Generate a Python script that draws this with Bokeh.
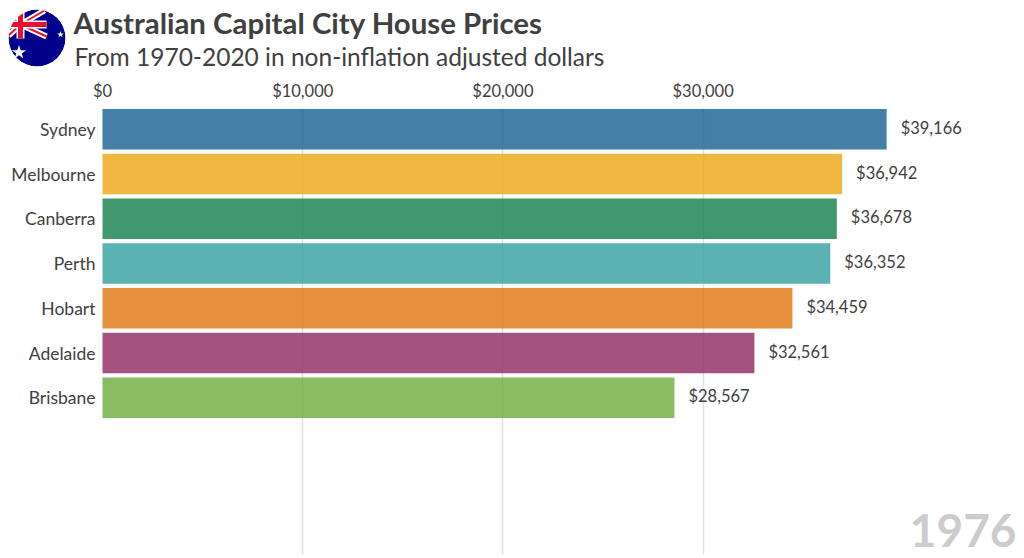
from bokeh.plotting import figure
from bokeh.layouts import column
from bokeh.models import ColumnDataSource, FixedTicker, Range1d, Label
from bokeh.core.properties import value
from bokeh.embed import file_html
from bokeh.resources import INLINE

cities = ["Sydney", "Melbourne", "Canberra", "Perth", "Hobart", "Adelaide", "Brisbane"]
prices = [39166, 36942, 36678, 36352, 34459, 32561, 28567]
colors = ["#156090", "#ECA610", "#137E4A", "#339F9F", "#E0740E", "#8D2760", "#6DAB3D"]
ticks = [0, 10000, 20000, 30000]
tick_labels = ["$0", "$10,000", "$20,000", "$30,000"]
title = "Australian Capital City House Prices"
subtitle = "From 1970-2020 in non-inflation adjusted dollars"
year = "1976"
FONT = "Lato"
INK = "#404040"

# header: ranges equal page pixels
WIDTH = 1024
HEAD_H = 72
h = figure(width=WIDTH, height=HEAD_H, x_range=Range1d(0, WIDTH), y_range=Range1d(HEAD_H, 0),
           output_backend="svg", toolbar_location=None, min_border=0, frame_align=False)
h.axis.visible = False
h.grid.visible = False
h.outline_line_color = None

cx, cy, r = 36.5, 37.5, 28.5
h.circle([cx], [cy], radius=r, fill_color="#00008B", line_color=None)
diag_x = [[20, 44], [20, 8], [20, 8], [20, 46]]
diag_y = [[24, 10], [24, 15], [24, 35], [24, 36]]
h.multi_line(diag_x, diag_y, line_color="white", line_width=6)
h.multi_line(diag_x, diag_y, line_color="#E8112D", line_width=2)
h.multi_line([[6, 46], [20, 20]], [[24, 24], [6, 38]], line_color="white", line_width=8)
h.multi_line([[6, 46], [20, 20]], [[24, 24], [6, 38]], line_color="#E8112D", line_width=5)
h.annulus([cx], [cy], inner_radius=r, outer_radius=r + 14, fill_color="white", line_color=None)
h.scatter([18.5], [52], marker="star", size=15, fill_color="white", line_color=None)
h.scatter([60], [34], marker="star", size=7, fill_color="white", line_color=None)

h.text([73], [21.5], text=[title], text_font=value(FONT), text_font_style="bold",
       text_font_size="29.4px", text_color=INK, text_baseline="middle")
h.text([74], [56], text=[subtitle], text_font=value(FONT),
       text_font_size="24.5px", text_color=INK, text_baseline="middle")

# chart
px_per_unit = 200.1 / 10000
x_end = (WIDTH - 102.5) / px_per_unit
step = 44.75
top_rank = (108 - 128.75) / step
bot_rank = (554 - 128.75) / step
p = figure(width=WIDTH, height=558 - HEAD_H, x_range=Range1d(0, x_end), y_range=Range1d(bot_rank, top_rank),
           x_axis_location="above", output_backend="svg", toolbar_location=None, frame_align=False,
           min_border_left=102, min_border_right=0, min_border_top=108 - HEAD_H, min_border_bottom=4)
p.outline_line_color = None

ranks = list(range(len(cities)))
src = ColumnDataSource(dict(y=ranks, price=prices, color=colors,
                            label=[f"${v:,}" for v in prices]))
p.hbar(y="y", left=0, right="price", height=0.9, fill_color="color", fill_alpha=0.8,
       line_color=None, source=src, level="overlay")
p.text(x="price", y="y", text="label", x_offset=14, y_offset=-1.5, text_baseline="middle",
       text_font=value(FONT), text_font_size="16.5px", text_color=INK, source=src)

p.xaxis.ticker = FixedTicker(ticks=ticks)
p.xaxis.major_label_overrides = dict(zip(ticks, tick_labels))
p.yaxis.ticker = FixedTicker(ticks=ranks)
p.yaxis.major_label_overrides = dict(zip(ranks, cities))
for ax in (p.xaxis, p.yaxis):
    ax.axis_line_color = None
    ax.major_tick_line_color = None
    ax.minor_tick_line_color = None
    ax.major_tick_out = 0
    ax.major_tick_in = 0
    ax.minor_tick_out = 0
    ax.minor_tick_in = 0
    ax.major_label_text_font = FONT
    ax.major_label_text_color = INK
p.xaxis.major_label_text_font_size = "16.5px"
p.yaxis.major_label_text_font_size = "17.5px"
p.xaxis.major_label_standoff = 8
p.yaxis.major_label_standoff = 7
p.ygrid.visible = False
p.xgrid.grid_line_color = "#e0e0e0"
p.xgrid.grid_line_width = 1.5

p.add_layout(Label(x=(1016 - 102.5) / px_per_unit, y=(530 - 128.75) / step, text=year, text_align="right",
                   text_baseline="middle", text_font=FONT, text_font_style="bold",
                   text_font_size="46px", text_color="#cccccc"))

page = column(h, p, spacing=0)
open("out.html", "w").write(file_html(page, INLINE))
